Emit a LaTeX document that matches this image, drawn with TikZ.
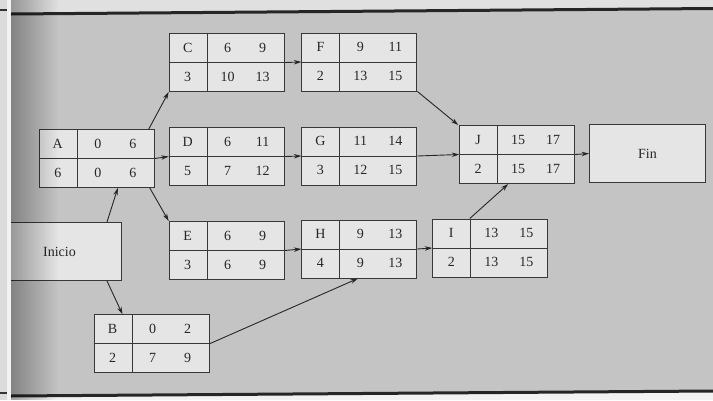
\documentclass[tikz,border=0pt]{standalone}
\usepackage{fontspec}
\setmainfont{Liberation Serif}
\usetikzlibrary{arrows.meta,fadings}
\definecolor{pagebg}{gray}{0.77}
\definecolor{boxfill}{gray}{0.90}
\definecolor{boxline}{gray}{0.22}
\definecolor{stripbg}{gray}{0.86}
\definecolor{topbg}{gray}{0.88}
\definecolor{paper}{gray}{0.95}
\tikzfading[name=fadeR, left color=transparent!0, right color=transparent!100]
\tikzset{
  abox/.style={draw=boxline, fill=boxfill, line width=1pt, minimum width=115pt,
    minimum height=58pt, inner sep=0pt, anchor=north west},
  divline/.style={draw=boxline, line width=1pt},
  cell/.style={inner sep=0pt, font=\fontsize{14}{16}\selectfont, text height=9.5pt, text depth=0pt, text=black!85},
  conn/.style={draw=black!85, line width=0.9pt, -{Stealth[length=7.5pt,width=4.5pt]}},
}
\newcommand\actbox[9]{%
  \node[abox] (#1) at (#2,#3) {};
  \draw[divline] ([xshift=38.5pt]#1.north west) -- ([xshift=38.5pt]#1.south west);
  \draw[divline] (#1.west) -- (#1.east);
  \node[cell] (#1-n) at ([xshift=19pt,yshift=-14.5pt]#1.north west) {#4};
  \node[cell] (#1-es) at ([xshift=59pt,yshift=-14.5pt]#1.north west) {#5};
  \node[cell] (#1-ef) at ([xshift=94pt,yshift=-14.5pt]#1.north west) {#6};
  \node[cell] (#1-d) at ([xshift=19pt,yshift=-43.5pt]#1.north west) {#7};
  \node[cell] (#1-ls) at ([xshift=59pt,yshift=-43.5pt]#1.north west) {#8};
  \node[cell] (#1-lf) at ([xshift=94pt,yshift=-43.5pt]#1.north west) {#9};
}
\begin{document}
\begin{tikzpicture}[x=1pt,y=-1pt]
\useasboundingbox (0,0) rectangle (713,400);
% page
\fill[pagebg] (0,0) rectangle (713,400);
\fill[topbg] (0,0) -- (713,0) -- (713,8.5) -- (11,14) -- cycle;
\fill[paper] (11,396) -- (713,391) -- (713,400) -- (0,400) -- cycle;
\draw[black!85, line width=3pt] (11,14) coordinate (tl) -- (713,8.5) coordinate (tr);
\draw[black!85, line width=3pt] (11,396) coordinate (bl) -- (713,391) coordinate (br);

% boxes
\actbox{A}{38.8}{129}{A}{0}{6}{6}{0}{6}
\actbox{C}{168.7}{33}{C}{6}{9}{3}{10}{13}
\actbox{F}{301.4}{32.5}{F}{9}{11}{2}{13}{15}
\actbox{D}{168.7}{127}{D}{6}{11}{5}{7}{12}
\actbox{G}{301.4}{126.5}{G}{11}{14}{3}{12}{15}
\actbox{J}{459.2}{125}{J}{15}{17}{2}{15}{17}
\actbox{E}{168.7}{221}{E}{6}{9}{3}{6}{9}
\actbox{H}{301.4}{219.5}{H}{9}{13}{4}{9}{13}
\actbox{I}{432.3}{218.5}{I}{13}{15}{2}{13}{15}
\actbox{B}{93.5}{314.3}{B}{0}{2}{2}{7}{9}
\node[abox, minimum width=116pt] (Fin) at (589,124) {};
\node[cell] (Fin-t) at (Fin.center) {Fin};
\node[abox, minimum width=118pt] (Inicio) at (3,222) {};
\node[cell] (Inicio-t) at ([xshift=-3pt]Inicio.center) {Inicio};

% connectors
\draw[conn] ([xshift=-6pt]A.north east) -- (C.south west);
\draw[conn] (A.east) -- (D.west);
\draw[conn] ([xshift=-5pt]A.south east) -- (E.north west);
\draw[conn] ([xshift=-15pt]Inicio.north east) -- ([xshift=79pt]A.south west);
\draw[conn] ([xshift=-15pt]Inicio.south east) -- ([xshift=29pt]B.north west);
\draw[conn] (C.east) -- (F.west);
\draw[conn] (F.south east) -- ([xshift=-1pt]J.north west);
\draw[conn] (D.east) -- (G.west);
\draw[conn] (G.east) -- (J.west);
\draw[conn] (J.east) -- (Fin.west);
\draw[conn] (E.east) -- (H.west);
\draw[conn] (H.east) -- (I.west);
\draw[conn] ([xshift=37.5pt]I.north west) -- ([xshift=49pt]J.south west);
\draw[conn] (B.east) -- ([xshift=56.5pt]H.south west);

% shadow of the binding
\fill[black, fill opacity=0.33, path fading=fadeR] (11,0) rectangle (58,400);
% left strip of the next page
\fill[stripbg] (0,0) rectangle (7,400);
\fill[paper] (7,0) rectangle (11,400);
\draw[black!80, line width=2pt] (0,10) -- (7,10);
\draw[black!80, line width=2pt] (0,393) -- (7,393);
\end{tikzpicture}
\end{document}
